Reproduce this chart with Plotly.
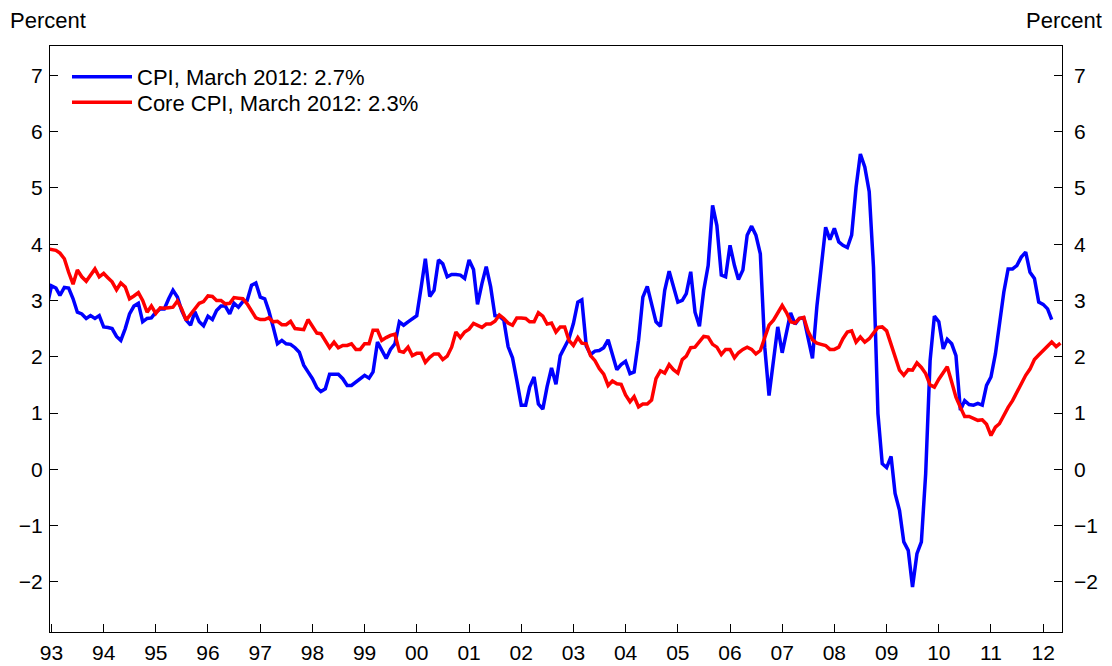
import pandas as pd
import plotly.graph_objects as go

# ---- data (12-month % change), monthly ----
cpi = [
    2.90,  # Dec 1992
    3.26, 3.22, 3.09, 3.23, 3.22, 3.03, 2.79, 2.76, 2.68, 2.73, 2.68, 2.73,  # 1993
    2.53, 2.52, 2.50, 2.36, 2.29, 2.50, 2.76, 2.90, 2.95, 2.62, 2.68, 2.69,  # 1994
    2.79, 2.85, 2.85, 3.03, 3.18, 3.06, 2.82, 2.65, 2.56, 2.80, 2.62, 2.55,  # 1995
    2.72, 2.66, 2.82, 2.90, 2.90, 2.76, 2.95, 2.88, 2.98, 3.00, 3.27, 3.31,  # 1996
    3.06, 3.03, 2.82, 2.53, 2.23, 2.29, 2.23, 2.22, 2.16, 2.08, 1.85, 1.73,  # 1997
    1.61, 1.45, 1.38, 1.43, 1.69, 1.69, 1.69, 1.61, 1.49, 1.49, 1.55, 1.61,  # 1998
    1.67, 1.62, 1.73, 2.26, 2.11, 1.97, 2.13, 2.23, 2.62, 2.56, 2.62, 2.68,  # 1999
    2.73, 3.24, 3.74, 3.07, 3.18, 3.72, 3.65, 3.42, 3.46, 3.46, 3.45, 3.39,  # 2000
    3.72, 3.55, 2.93, 3.30, 3.60, 3.24, 2.73, 2.72, 2.65, 2.18, 1.98, 1.58,  # 2001
    1.14, 1.14, 1.46, 1.64, 1.16, 1.07, 1.47, 1.80, 1.51, 2.02, 2.16, 2.32,  # 2002
    2.59, 2.97, 3.01, 2.19, 2.04, 2.10, 2.11, 2.16, 2.30, 2.04, 1.77, 1.86,  # 2003
    1.92, 1.70, 1.73, 2.29, 3.06, 3.25, 2.94, 2.62, 2.54, 3.18, 3.52, 3.27,  # 2004
    2.97, 3.00, 3.12, 3.51, 2.79, 2.54, 3.18, 3.62, 4.69, 4.33, 3.45, 3.42,  # 2005
    3.98, 3.62, 3.37, 3.54, 4.16, 4.32, 4.16, 3.83, 2.17, 1.31, 1.88, 2.53,  # 2006
    2.07, 2.47, 2.78, 2.58, 2.68, 2.69, 2.33, 1.97, 2.90, 3.57, 4.30, 4.08,  # 2007
    4.28, 4.04, 3.98, 3.94, 4.16, 5.01, 5.60, 5.37, 4.93, 3.59, 0.99, 0.10,  # 2008
    0.03, 0.23, -0.43, -0.73, -1.29, -1.44, -2.09, -1.50, -1.29, -0.08, 1.93, 2.72,  # 2009
    2.62, 2.14, 2.31, 2.23, 2.02, 1.05, 1.22, 1.15, 1.14, 1.17, 1.14, 1.49,  # 2010
    1.64, 2.05, 2.62, 3.15, 3.56, 3.56, 3.62, 3.77, 3.86, 3.50, 3.39, 2.97,  # 2011
    2.93, 2.85, 2.66,  # 2012
]

core_cpi = [
    3.92,  # Dec 1992
    3.90, 3.89, 3.84, 3.74, 3.50, 3.29, 3.54, 3.42, 3.34, 3.45, 3.56, 3.42,  # 1993
    3.48, 3.40, 3.33, 3.19, 3.31, 3.24, 3.03, 3.08, 3.14, 3.00, 2.79, 2.90,  # 1994
    2.77, 2.87, 2.86, 2.87, 2.88, 2.99, 2.85, 2.65, 2.76, 2.85, 2.95, 2.98,  # 1995
    3.08, 3.07, 3.00, 3.00, 2.94, 2.95, 3.05, 3.04, 3.03, 2.94, 2.82, 2.69,  # 1996
    2.66, 2.66, 2.69, 2.62, 2.63, 2.57, 2.57, 2.63, 2.50, 2.49, 2.48, 2.66,  # 1997
    2.53, 2.42, 2.41, 2.29, 2.16, 2.26, 2.16, 2.20, 2.20, 2.23, 2.13, 2.13,  # 1998
    2.23, 2.23, 2.47, 2.47, 2.29, 2.34, 2.38, 2.40, 2.10, 2.08, 2.17, 2.02,  # 1999
    2.06, 2.06, 1.90, 1.99, 2.05, 2.05, 1.95, 2.01, 2.17, 2.44, 2.34, 2.44,  # 2000
    2.49, 2.59, 2.56, 2.52, 2.58, 2.58, 2.63, 2.74, 2.68, 2.60, 2.56, 2.69,  # 2001
    2.69, 2.68, 2.62, 2.62, 2.78, 2.72, 2.58, 2.60, 2.44, 2.53, 2.53, 2.29,  # 2002
    2.20, 2.34, 2.24, 2.23, 2.02, 1.93, 1.79, 1.69, 1.49, 1.57, 1.52, 1.51,  # 2003
    1.32, 1.20, 1.29, 1.11, 1.16, 1.16, 1.23, 1.61, 1.75, 1.71, 1.86, 1.77,  # 2004
    1.71, 1.95, 2.01, 2.16, 2.17, 2.26, 2.36, 2.35, 2.22, 2.17, 2.04, 2.13,  # 2005
    2.13, 1.98, 2.07, 2.13, 2.17, 2.13, 2.05, 2.11, 2.35, 2.56, 2.65, 2.79,  # 2006
    2.91, 2.78, 2.62, 2.60, 2.68, 2.70, 2.45, 2.30, 2.24, 2.22, 2.20, 2.13,  # 2007
    2.13, 2.17, 2.32, 2.44, 2.46, 2.26, 2.35, 2.26, 2.32, 2.42, 2.52, 2.53,  # 2008
    2.46, 2.22, 1.99, 1.76, 1.67, 1.77, 1.76, 1.89, 1.81, 1.70, 1.50, 1.46,  # 2009
    1.60, 1.71, 1.82, 1.55, 1.28, 1.10, 0.94, 0.94, 0.90, 0.87, 0.88, 0.80,  # 2010
    0.60, 0.75, 0.81, 0.96, 1.10, 1.22, 1.37, 1.52, 1.67, 1.78, 1.95, 2.03,  # 2011
    2.11, 2.17, 2.26, 2.18, 2.24,  # 2012
]

series_start = "1992-12-01"
cpi_dates = pd.date_range(series_start, periods=len(cpi), freq="MS")
core_dates = pd.date_range(series_start, periods=len(core_cpi), freq="MS")

year_ticks = [f"{y}-01-01" for y in range(1993, 2013)]
year_labels = [str(y)[2:] for y in range(1993, 2013)]
y_ticks = list(range(-2, 8))

cpi_name = "CPI, March 2012: 2.7%"
core_name = "Core CPI, March 2012: 2.3%"

FONT = "Liberation Sans, Arial, Helvetica, sans-serif"

fig = go.Figure()
fig.add_trace(go.Scatter(x=cpi_dates, y=cpi, mode="lines", name=cpi_name,
                         legend="legend",
                         line=dict(color="#0000FF", width=3.5)))
fig.add_trace(go.Scatter(x=core_dates, y=core_cpi, mode="lines", name=core_name,
                         legend="legend2",
                         line=dict(color="#FF0000", width=3.5)))
# carrier for the right-hand axis (not visible)
fig.add_trace(go.Scatter(x=cpi_dates, y=cpi, mode="lines", yaxis="y2",
                         line=dict(color="rgba(0,0,0,0)", width=0),
                         showlegend=False, hoverinfo="skip"))

yr = [-2.89, 7.52]
legend_common = dict(xanchor="left", yanchor="top", bgcolor="rgba(0,0,0,0)",
                     font=dict(size=22, family=FONT), itemwidth=60)
axis_common = dict(ticks="inside", ticklen=8, tickcolor="black", tickwidth=1,
                   showgrid=False, zeroline=False, automargin=False,
                   tickfont=dict(size=21, family=FONT))

# the page body has an 8px margin: figure is 8px smaller and margins shifted
fig.update_layout(
    width=1104, height=658, autosize=False,
    margin=dict(l=42, r=50, t=38, b=34),
    paper_bgcolor="white", plot_bgcolor="white",
    font=dict(family=FONT, size=21, color="black"),
    showlegend=True,
    legend=dict(x=0.0168, y=0.9831, **legend_common),
    legend2=dict(x=0.0168, y=0.9396, **legend_common),
    xaxis=dict(type="date", range=["1992-12-21 12:00", "2012-05-12"],
               tickvals=year_ticks, ticktext=year_labels,
               showline=True, linecolor="black", linewidth=1, mirror=True,
               ticklabelstandoff=2, **axis_common),
    yaxis=dict(range=yr, tickvals=y_ticks,
               showline=True, linecolor="black", linewidth=1, mirror=True,
               ticklabelstandoff=2, **axis_common),
    yaxis2=dict(range=yr, tickvals=y_ticks, overlaying="y", side="right",
                showline=False, ticklabelstandoff=11, **axis_common),
    annotations=[
        dict(text="Percent", xref="paper", yref="paper", x=-0.0415, y=1.0435,
             xanchor="left", yanchor="middle", showarrow=False,
             font=dict(size=22, family=FONT)),
        dict(text="Percent", xref="paper", yref="paper", x=1.0415, y=1.0435,
             xanchor="right", yanchor="middle", showarrow=False,
             font=dict(size=22, family=FONT)),
    ],
)

fig.write_html("out.html")
